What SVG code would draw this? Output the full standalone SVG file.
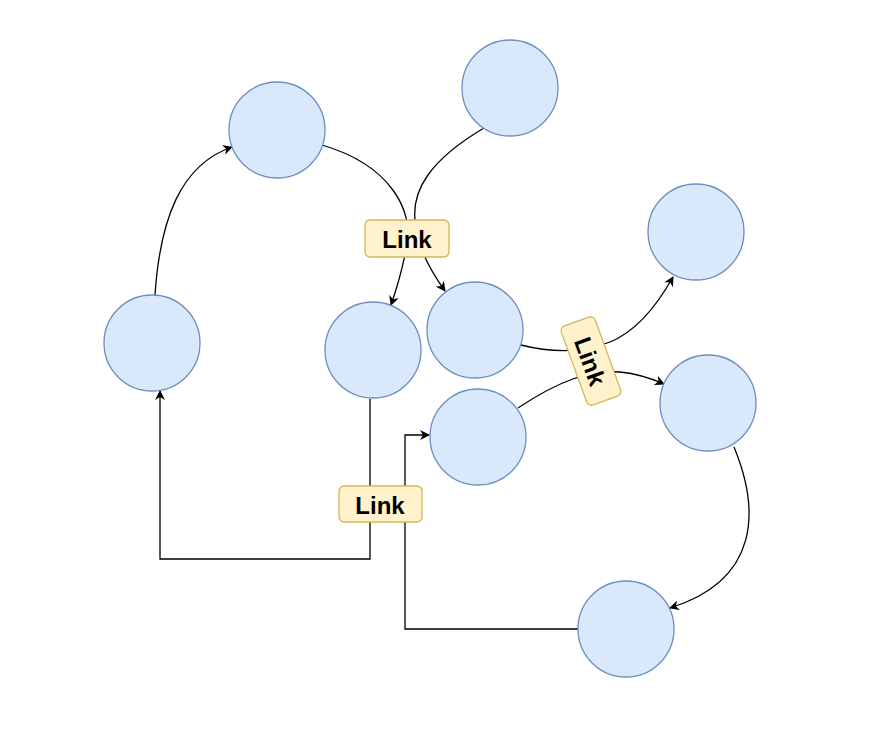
<svg xmlns="http://www.w3.org/2000/svg" width="872" height="749" viewBox="0 0 872 749">
<style>
.n{fill:#dae8fc;stroke:#6c8ebf;stroke-width:1.3}
.e{fill:none;stroke:#000;stroke-width:1.3;marker-end:url(#a)}
.lb{fill:#fff2cc;stroke:#d6b656;stroke-width:1.3}
.t{font-family:"Liberation Sans",Arial,sans-serif;font-weight:bold;font-size:24px;text-anchor:middle;dominant-baseline:central}
</style>
<defs><marker id="a" viewBox="0 0 10 10" refX="9" refY="5" markerWidth="10" markerHeight="10" markerUnits="userSpaceOnUse" orient="auto"><path d="M0,0L10,5L0,10L3,5z" fill="#000"/></marker></defs>
<rect width="872" height="749" fill="#fff"/>
<g id="connectors">
<path class="e" d="M155,295C160,220 180,165 232,147"/>
<path class="e" d="M322,145C390,165 415,210 406,250C402,270 398,285 391,305"/>
<path class="e" d="M484,128C430,160 412,190 415,220C416,245 430,270 445,291"/>
<path class="e" d="M521,345C560,355 590,350 610,342C640,330 660,300 673,277"/>
<path class="e" d="M518,408C560,380 590,370 620,372C640,374 655,380 664,384"/>
<path class="e" d="M734,447C760,510 760,580 670,608"/>
<path class="e" d="M578,629H405V435H429"/>
<path class="e" d="M370,399V559H160V391"/>
</g>
<g id="A"><circle class="n" cx="277" cy="130" r="48"/></g>
<g id="B"><circle class="n" cx="510" cy="88" r="48"/></g>
<g id="C"><circle class="n" cx="696" cy="232" r="48"/></g>
<g id="D"><circle class="n" cx="152" cy="343" r="48"/></g>
<g id="E"><circle class="n" cx="373" cy="350" r="48"/></g>
<g id="F"><circle class="n" cx="475" cy="330" r="48"/></g>
<g id="G"><circle class="n" cx="478" cy="437" r="48"/></g>
<g id="H"><circle class="n" cx="708" cy="403" r="48"/></g>
<g id="I"><circle class="n" cx="626" cy="629" r="48"/></g>
<g id="label1"><rect class="lb" x="365" y="220" width="84" height="37" rx="5"/><text class="t" x="407" y="239">Link</text></g>
<g id="label2" transform="translate(591,361) rotate(70)"><rect class="lb" x="-42" y="-18" width="84" height="36" rx="5"/><text class="t" x="0" y="1">Link</text></g>
<g id="label3"><rect class="lb" x="339" y="486" width="83" height="36" rx="5"/><text class="t" x="380" y="505">Link</text></g>
</svg>
